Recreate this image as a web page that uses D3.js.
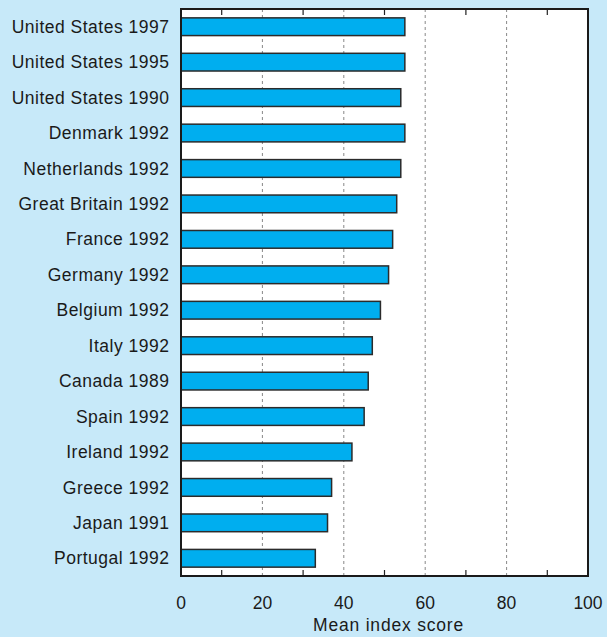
<!DOCTYPE html>
<html><head><meta charset="utf-8">
<script src="https://cdn.jsdelivr.net/npm/d3@7"></script>
<style>
html,body{margin:0;padding:0;background:#c7e9f9;}
svg{display:block;}
text{font-family:"Liberation Sans",Arial,Helvetica,sans-serif;fill:#1a1a1a;}
</style></head>
<body>
<script>
const categories = ["United States 1997","United States 1995","United States 1990","Denmark 1992","Netherlands 1992","Great Britain 1992","France 1992","Germany 1992","Belgium 1992","Italy 1992","Canada 1989","Spain 1992","Ireland 1992","Greece 1992","Japan 1991","Portugal 1992"];
const values = [55,55,54,55,54,53,52,51,49,47,46,45,42,37,36,33];
const majorTicks = [0,20,40,60,80,100];
const minorTicks = [10,30,50,70,90];
const gridTicks = [20,40,60,80];
const xTitle = "Mean index score";

const W = 607, H = 637;
const m = {left:181, right:19, top:9, bottom:61};
const pw = W - m.left - m.right, ph = H - m.top - m.bottom;

const svg = d3.select("body").append("svg").attr("width",W).attr("height",H);
svg.append("rect").attr("width",W).attr("height",H).attr("fill","#c7e9f9");
const g = svg.append("g").attr("transform",`translate(${m.left},${m.top})`);

const x = d3.scaleLinear().domain([0,100]).range([0,pw]);
const y = d3.scaleBand().domain(categories).range([0,ph]).paddingInner(0.5).paddingOuter(0.25);

g.append("rect").attr("width",pw).attr("height",ph).attr("fill","#fff");

// grid
g.selectAll("line.grid").data(gridTicks).join("line").attr("class","grid")
  .attr("x1",d=>x(d)).attr("x2",d=>x(d)).attr("y1",0).attr("y2",ph)
  .attr("stroke","#888").attr("stroke-width",1).attr("stroke-dasharray","3,3");

// bars
g.selectAll("rect.bar").data(values).join("rect").attr("class","bar")
  .attr("x",x(0)).attr("y",(d,i)=>y(categories[i]))
  .attr("width",d=>x(d)-x(0)).attr("height",y.bandwidth())
  .attr("fill","#00aeef").attr("stroke","#2b2b2b").attr("stroke-width",1.5);

// minor ticks top and bottom
const tickLen = 6;
g.selectAll("line.tt").data(minorTicks).join("line").attr("class","tt")
  .attr("x1",d=>x(d)).attr("x2",d=>x(d)).attr("y1",0).attr("y2",tickLen)
  .attr("stroke","#222").attr("stroke-width",1.2);
g.selectAll("line.tb").data(minorTicks).join("line").attr("class","tb")
  .attr("x1",d=>x(d)).attr("x2",d=>x(d)).attr("y1",ph).attr("y2",ph-tickLen)
  .attr("stroke","#222").attr("stroke-width",1.2);

// frame
g.append("rect").attr("width",pw).attr("height",ph).attr("fill","none")
  .attr("stroke","#1a1a1a").attr("stroke-width",2);

// x tick labels
g.selectAll("text.xt").data(majorTicks).join("text").attr("class","xt")
  .attr("x",d=>x(d)).attr("y",ph+33).attr("text-anchor","middle")
  .attr("font-size",17.5).text(d=>d);

// category labels
g.selectAll("text.cat").data(categories).join("text").attr("class","cat")
  .attr("x",-11.5).attr("y",d=>y(d)+y.bandwidth()/2).attr("dy","0.35em")
  .attr("text-anchor","end").attr("font-size",17.5).attr("letter-spacing",0.5).text(d=>d);

// x title
g.append("text").attr("x",x(50)+4).attr("y",ph+54.5).attr("text-anchor","middle")
  .attr("font-size",17.5).attr("letter-spacing",0.8).text(xTitle);
</script>
</body></html>
